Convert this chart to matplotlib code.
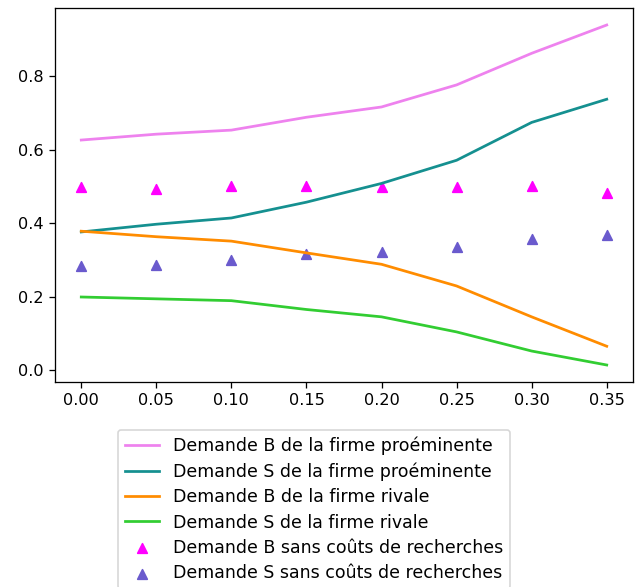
import numpy as np
import matplotlib
matplotlib.use('Agg')
import matplotlib.pyplot as plt

# coûts de recherche
couts = [0.00, 0.05, 0.10, 0.15, 0.20, 0.25, 0.30, 0.35]

# demandes avec coûts de recherche
b_proeminente = [0.626, 0.642, 0.653, 0.688, 0.716, 0.776, 0.862, 0.939]
s_proeminente = [0.376, 0.397, 0.414, 0.457, 0.508, 0.571, 0.674, 0.737]
b_rivale = [0.378, 0.363, 0.351, 0.319, 0.288, 0.229, 0.145, 0.065]
s_rivale = [0.199, 0.194, 0.189, 0.165, 0.145, 0.104, 0.052, 0.014]

# demandes sans coûts de recherche
b_sans = [0.499, 0.494, 0.502, 0.502, 0.498, 0.498, 0.502, 0.482]
s_sans = [0.283, 0.287, 0.301, 0.316, 0.322, 0.334, 0.358, 0.367]

fig = plt.figure(figsize=(640 / 116, 587 / 116), dpi=116)
ax = fig.add_axes([55 / 640, 1 - 382 / 587, 578 / 640, 374 / 587])

lw = 1.7
ax.plot(couts, b_proeminente, color='violet', lw=lw, label='Demande B de la firme proéminente')
ax.plot(couts, s_proeminente, color='#159090', lw=lw, label='Demande S de la firme proéminente')
ax.plot(couts, b_rivale, color='darkorange', lw=lw, label='Demande B de la firme rivale')
ax.plot(couts, s_rivale, color='limegreen', lw=lw, label='Demande S de la firme rivale')
ax.scatter(couts, b_sans, marker='^', color='magenta', label='Demande B sans coûts de recherches')
ax.scatter(couts, s_sans, marker='^', color='slateblue', label='Demande S sans coûts de recherches')

ax.set_xticks(np.arange(0, 0.36, 0.05))
ax.set_xticklabels(['{:.2f}'.format(c) for c in couts])

ax.legend(loc='upper center', bbox_to_anchor=(314 / 640, 1 - 421 / 587),
          bbox_transform=fig.transFigure, fontsize=10.8, labelspacing=0.42)

fig.savefig('out.png', dpi=116)
